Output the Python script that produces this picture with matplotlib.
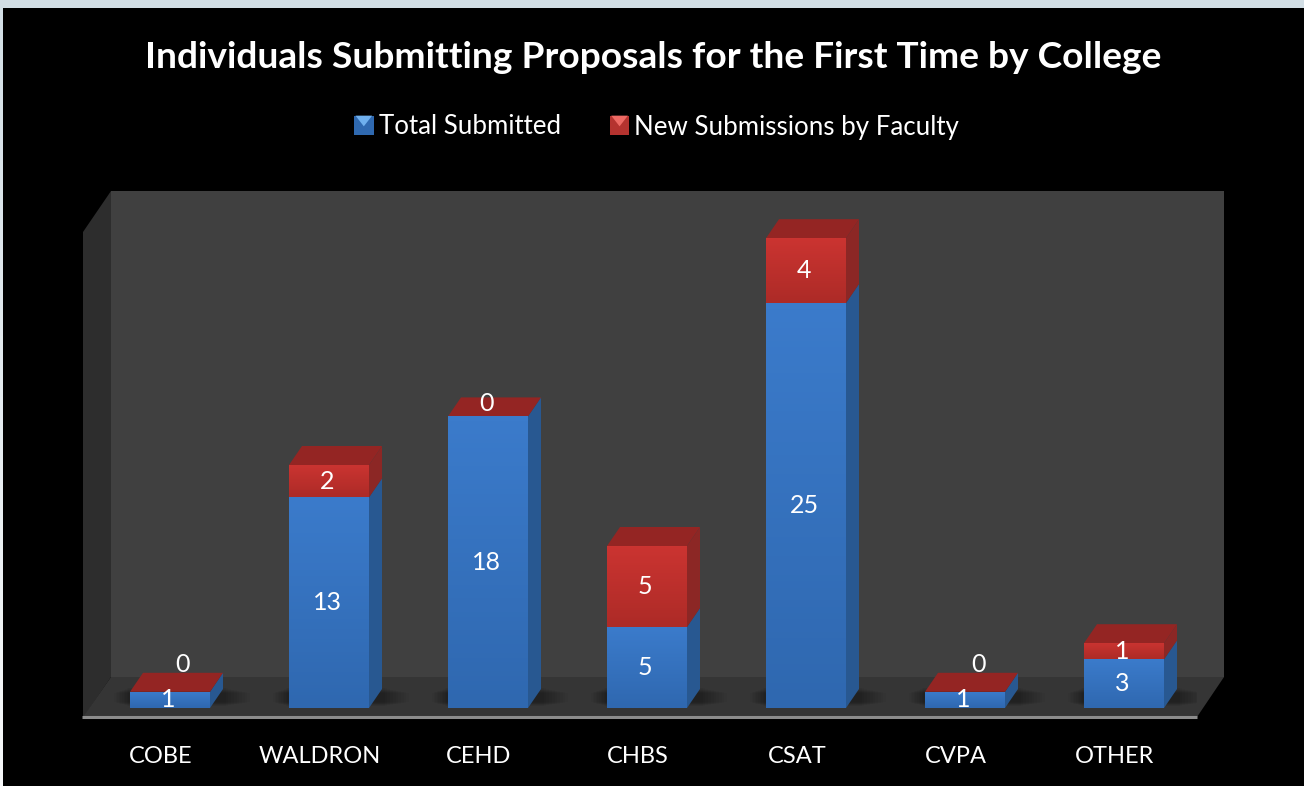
#!/usr/bin/env python3
import numpy as np
import matplotlib
matplotlib.use('Agg')
import matplotlib.pyplot as plt
from matplotlib.patches import Polygon, Rectangle, Patch
from matplotlib.legend_handler import HandlerBase
from matplotlib.transforms import ScaledTranslation

plt.rcParams['font.family'] = ['Lato', 'DejaVu Sans']

colleges = ['COBE', 'WALDRON', 'CEHD', 'CHBS', 'CSAT', 'CVPA', 'OTHER']
total_submitted = [1, 13, 18, 5, 25, 1, 3]
new_submissions = [0, 2, 0, 5, 4, 0, 1]

W, H = 1304, 786
fig = plt.figure(figsize=(W / 100, H / 100), dpi=100, facecolor='black')

# page and chart walls, in pixel coordinates
bg = fig.add_axes([0, 0, 1, 1])
edge = np.linspace(0, 1, 256).reshape(-1, 1)
bg.imshow(edge, extent=[0, 3, H, 8], cmap=matplotlib.colors.LinearSegmentedColormap.from_list(
    'edge', ['#d3dfe6', '#f7f9fa']), aspect='auto', origin='upper', zorder=1)
bg.add_patch(Rectangle((0, 0), W, 8, fc='#d2dee5', ec='none'))
bg.set_xlim(0, W)
bg.set_ylim(H, 0)
bg.axis('off')

bg.add_patch(Polygon([(111, 191), (1224, 191), (1224, 677), (111, 677)], fc='#404040', ec='none'))
bg.add_patch(Polygon([(83, 232), (111, 191), (111, 677), (83, 718)], fc='#2d2d2d', ec='none'))
bg.add_patch(Polygon([(83, 717), (111, 677), (1224, 677), (1197, 717)], fc='#353535', ec='none'))
bg.plot([82, 1197], [717, 717], color='#8c8c8c', lw=2.2, solid_capstyle='butt')

bg.text(653, 58, 'Individuals Submitting Proposals for the First Time by College',
        color='white', fontsize=26.7, fontweight='bold', ha='center', va='center')

# bars
ax = fig.add_axes([83 / W, 1 - 718 / H, (1197 - 83) / W, (718 - 191) / H])
ax.patch.set_alpha(0)
ax.set_xlim((83 - 170) / 159, (1197 - 170) / 159)
ax.set_ylim(-10 / 16.2, 517 / 16.2)
for s in ax.spines.values():
    s.set_visible(False)

x = np.arange(len(colleges))
bar_w = 80 / 159
dx = 13 / 159
dy = 19 / 16.2
blue = np.array(total_submitted, dtype=float)
red = np.array(new_submissions, dtype=float)
stack = blue + red


def gradient_fill(bars, top_color, bottom_color):
    cmap = matplotlib.colors.LinearSegmentedColormap.from_list('g', [top_color, bottom_color])
    for b in bars:
        if b.get_height() == 0:
            continue
        im = ax.imshow(np.linspace(0, 1, 64).reshape(-1, 1), cmap=cmap, aspect='auto', origin='upper',
                       extent=[b.get_x(), b.get_x() + b.get_width(), b.get_y(), b.get_y() + b.get_height()],
                       zorder=4)
        im.set_clip_path(b)


for i in x:
    r = i + bar_w / 2
    # soft shadow on the floor
    for k in np.linspace(1, 0.1, 10):
        ax.add_patch(Rectangle((i - bar_w / 2 - 0.1 * k, 0.1 + 0.25 * k), bar_w + dx + 0.27 * k, dy * (1.0 - 0.5 * k),
                               fc='black', alpha=0.035, ec='none', zorder=2))
    # side faces
    ax.add_patch(Polygon([(r, 0), (r, blue[i]), (r + dx, blue[i] + dy), (r + dx, dy)],
                         fc='#285891', ec='none', zorder=3))
    if red[i] > 0:
        ax.add_patch(Polygon([(r, blue[i]), (r, stack[i]), (r + dx, stack[i] + dy), (r + dx, blue[i] + dy)],
                             fc='#8c2725', ec='none', zorder=3))
    # top face
    ax.add_patch(Polygon([(r - bar_w, stack[i]), (r, stack[i]), (r + dx, stack[i] + dy), (r - bar_w + dx, stack[i] + dy)],
                         fc='#942523', ec='none', zorder=3))

bars_blue = ax.bar(x, blue, width=bar_w, color='#3674c2', zorder=4)
bars_red = ax.bar(x, red, width=bar_w, bottom=blue, color='#c0302c', zorder=4)
gradient_fill(bars_blue, '#3b7bcb', '#2f68b0')
gradient_fill(bars_red, '#cb3431', '#ad2b27')

# labels sit 2px left of the bar centre, zeros go above the top face
for i in x:
    ax.text(i - 2 / 159, blue[i] / 2, str(total_submitted[i]), color='white',
            fontsize=18, ha='center', va='center', zorder=6)
    xt = i - 2 / 159
    if red[i] > 0:
        y = blue[i] + red[i] / 2
    elif blue[i] > 1:
        y = blue[i] + 0.8
    else:
        y = blue[i] + 1.7
        xt = i + 13 / 159
    ax.text(xt, y, str(new_submissions[i]), color='white', fontsize=18, ha='center', va='center', zorder=6)

ax.set_xticks(x)
ax.set_xticklabels(colleges, color='white', fontsize=17)
ax.tick_params(axis='x', length=0, pad=20)
ax.set_yticks([])
shift = ScaledTranslation(-9 / 100, 0, fig.dpi_scale_trans)
for t in ax.get_xticklabels():
    t.set_transform(t.get_transform() + shift)


class BevelHandler(HandlerBase):
    def create_artists(self, legend, orig, xd, yd, width, height, fontsize, trans):
        s = 14
        x0 = xd * -1 + (width - s) / 2
        y0 = yd * -1 + (height - s) / 2
        base = Rectangle((x0, y0), s, s, fc=orig.get_facecolor(), ec='none', transform=trans)
        bevel = Polygon([(x0 + 1, y0 + s), (x0 + s - 1, y0 + s), (x0 + s / 2, y0 + s * 0.45)],
                        fc=orig.get_edgecolor(), ec='none', transform=trans)
        return [base, bevel]


handles = [Patch(fc='#2f69b0', ec='#6fb0ee', label='Total Submitted'),
           Patch(fc='#b5332f', ec='#ee6a64', label='New Submissions by Faculty')]
leg = bg.legend(handles=handles, handler_map={Patch: BevelHandler()}, ncol=2, frameon=False,
                loc='center', bbox_to_anchor=(658 / W, 1 - 127 / H), bbox_transform=fig.transFigure,
                fontsize=18.6, labelcolor='white', handlelength=0.55, handleheight=0.55,
                handletextpad=0.3, columnspacing=2.0, borderpad=0)

fig.savefig('out.png', dpi=100, facecolor='black')
